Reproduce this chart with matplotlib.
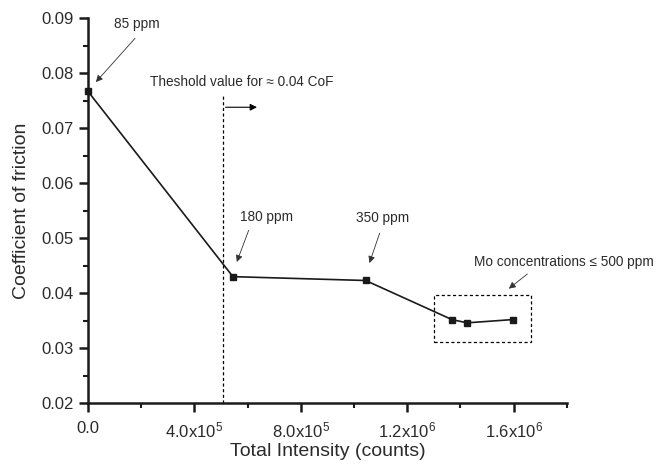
import numpy as np
import matplotlib.pyplot as plt
from matplotlib.ticker import MultipleLocator, FuncFormatter
import matplotlib.patches as patches

plt.rcParams['font.family'] = ['Liberation Sans', 'DejaVu Sans']
plt.rcParams['mathtext.fontset'] = 'custom'
plt.rcParams['mathtext.rm'] = 'Liberation Sans'
plt.rcParams['mathtext.it'] = 'Liberation Sans'

# total intensity vs coefficient of friction
intensity = [0, 5.45e5, 1.044e6, 1.368e6, 1.425e6, 1.598e6]
cof = [0.0767, 0.0430, 0.0423, 0.0352, 0.0346, 0.0352]

threshold_x = 5.07e5
txt_color = '#2b2b2b'

fig = plt.figure(figsize=(6.56, 4.65), dpi=100)
ax = fig.add_axes([0.134, 0.133, 0.730, 0.828])

ax.plot(intensity, cof, color='#1a1a1a', lw=1.2, marker='s', ms=4.5,
        mfc='#1a1a1a', mec='#1a1a1a', clip_on=False, zorder=3)

# threshold line + arrow
ax.plot([threshold_x, threshold_x], [0.02, 0.0759], ls=(0, (2.5, 2)), color='black', lw=0.9)
ax.annotate('', xy=(6.46e5, 0.0738), xytext=(threshold_x, 0.0738),
            arrowprops=dict(arrowstyle='-|>', color='black', lw=0.8, mutation_scale=10))
ax.text(2.33e5, 0.0784, 'Theshold value for ≈ 0.04 CoF', fontsize=9.8,
        va='center', ha='left', color=txt_color)

# box around low-CoF points
box = patches.Rectangle((1.30e6, 0.0312), 0.364e6, 0.00838, fill=False,
                        ls=(0, (2.5, 2)), lw=0.9, color='black')
ax.add_patch(box)

arrow = dict(arrowstyle='-|>', color='#333333', lw=0.6, mutation_scale=10)
lbl = dict(fontsize=9.8, ha='center', va='center', color=txt_color)
ax.annotate('', xy=(2.3e4, 0.0780), xytext=(1.84e5, 0.0867), arrowprops=arrow)
ax.text(1.84e5, 0.0889, '85 ppm', **lbl)
ax.annotate('', xy=(5.56e5, 0.0452), xytext=(6.08e5, 0.0519), arrowprops=arrow)
ax.text(6.72e5, 0.0538, '180 ppm', **lbl)
ax.annotate('', xy=(1.055e6, 0.0450), xytext=(1.100e6, 0.0514), arrowprops=arrow)
ax.text(1.108e6, 0.0536, '350 ppm', **lbl)
ax.annotate('', xy=(1.574e6, 0.0405), xytext=(1.660e6, 0.0438), arrowprops=arrow)
ax.text(1.788e6, 0.0456, 'Mo concentrations ≤ 500 ppm', **lbl)

ax.set_xlim(0, 1.8e6)
ax.set_ylim(0.02, 0.09)
ax.xaxis.set_major_locator(MultipleLocator(4e5))
ax.xaxis.set_minor_locator(MultipleLocator(2e5))
ax.yaxis.set_major_locator(MultipleLocator(0.01))
ax.yaxis.set_minor_locator(MultipleLocator(0.005))


def sci_fmt(v, pos):
    if v <= 0:
        return '0.0'
    exp = int(np.floor(np.log10(v)))
    return r'%.1fx10$^{%d}$' % (v / 10**exp, exp)


ax.xaxis.set_major_formatter(FuncFormatter(sci_fmt))
ax.yaxis.set_major_formatter(FuncFormatter(lambda v, p: '%.2f' % v))

for s in ['top', 'right']:
    ax.spines[s].set_visible(False)
for s in ['left', 'bottom']:
    ax.spines[s].set_linewidth(1.8)
    ax.spines[s].set_color('#1a1a1a')

ax.tick_params(which='major', direction='out', length=6.5, width=1.8, labelsize=12,
               color='#1a1a1a', labelcolor=txt_color)
ax.tick_params(axis='x', which='major', pad=6)
ax.tick_params(axis='y', which='major', pad=4)
ax.tick_params(which='minor', direction='out', length=3.5, width=1.5, color='#1a1a1a')

ax.set_xlabel('Total Intensity (counts)', fontsize=14, labelpad=2, color=txt_color)
ax.set_ylabel('Coefficient of friction', fontsize=14, labelpad=8, color=txt_color)

fig.savefig('out.png', dpi=100, facecolor='white')
